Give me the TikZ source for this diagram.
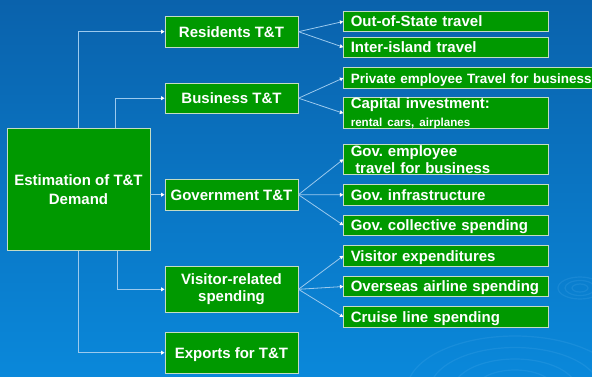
\documentclass[tikz,border=0pt]{standalone}
\usepackage{fontspec}
\setmainfont{Liberation Sans}
\usepackage[HTML]{xcolor}
\usetikzlibrary{positioning, arrows, arrows.meta}

\definecolor{boxgreen}{HTML}{009900}
\definecolor{bgtop}{HTML}{0A62AC}
\definecolor{bgbot}{HTML}{0A88DA}
\definecolor{linkblue}{HTML}{9CCAEE}
\definecolor{edgegrey}{HTML}{C4DCC4}
\definecolor{ripple}{HTML}{5AB4F0}

\tikzset{
  box/.style={draw=edgegrey, line width=0.9pt, fill=boxgreen, text=white,
    font=\fontsize{15}{17}\selectfont\bfseries, inner ysep=0pt},
  mainbox/.style={box, minimum width=133pt, inner xsep=2pt, align=center},
  leafbox/.style={box, anchor=west, inner xsep=7pt, text width=190.4pt, align=left},
  single/.style={minimum height=20.4pt, text height=10.7pt, text depth=0pt},
  link/.style={draw=linkblue, line width=0.8pt, -{Triangle[length=3.4pt,width=3.8pt,color=white]}},
  wave/.style={draw=ripple, line width=1.2pt, opacity=0.18},
}

\begin{document}
\frenchspacing
\begin{tikzpicture}[x=1pt, y=-1pt]
\useasboundingbox (0,0) rectangle (592,376);
\fill[top color=bgtop, bottom color=bgbot] (0,0) rectangle (592,376);
\begin{scope}
\clip (0,0) rectangle (592,376);
\foreach \r in {8,15,22}
  \draw[wave] (580,288) ellipse [x radius=\r, y radius=\r/2];
\foreach \r in {40,62,85,108}
  \draw[wave] (515,390) ellipse [x radius=\r, y radius=\r/2];
\end{scope}

\node[box, minimum width=143pt, minimum height=122.7pt, align=center,
  font=\fontsize{15}{19}\selectfont\bfseries] (root) at (78.5,189.5) {Estimation of T\&T\\Demand};

\node[mainbox, minimum height=30.7pt, text height=10.7pt, text depth=0pt] (res) at (231.5,31.7) {Residents T\&T};
\node[mainbox, minimum height=30.3pt, text height=10.7pt, text depth=0pt] (bus) at (231.5,98.2) {Business T\&T};
\node[mainbox, minimum height=30.7pt, text height=10.7pt, text depth=0pt] (gov) at (231.5,194.7) {Government T\&T};
\node[mainbox, minimum height=45.3pt, font=\fontsize{15}{17.6}\selectfont\bfseries] (vis) at (231.5,289.3) {Visitor-related\\spending\vphantom{Vl}};
\node[mainbox, minimum height=40.5pt, text height=10.7pt, text depth=0pt] (exp) at (231.5,352.7) {Exports for T\&T};

\node[leafbox, single] (out)   at (343.3,21.5)  {Out-of-State travel};
\node[leafbox, single] (inter) at (343.3,47.2)  {Inter-island travel};
\node[leafbox, single, text width=246pt, font=\fontsize{13.5}{16}\selectfont\bfseries] (priv) at (343.3,78) {Private employee Travel for business};
\node[leafbox, minimum height=31pt] (cap) at (343.3,113.2) {Capital investment:\\[0.5pt]{\fontsize{11.6}{13}\selectfont rental cars, airplanes}};
\node[leafbox, minimum height=30.7pt, font=\fontsize{15}{16.7}\selectfont\bfseries] (gemp) at (343.3,159.3) {Gov. employee\\\hspace*{4.5pt}travel for business};
\node[leafbox, single] (infra) at (343.3,194.8) {Gov. infrastructure};
\node[leafbox, single] (coll)  at (343.3,225.2) {Gov. collective spending};
\node[leafbox, single] (vexp)  at (343.3,255.8) {Visitor expenditures};
\node[leafbox, single] (air)   at (343.3,286.5) {Overseas airline spending};
\node[leafbox, single] (ship)  at (343.3,317)   {Cruise line spending};

\draw[link] (root.north) |- (res.west);
\draw[link] ([xshift=36.8pt]root.north) |- (bus.west);
\draw[link] (root.east |- gov.west) -- (gov.west);
\draw[link] ([xshift=38.8pt]root.south) |- (vis.west);
\draw[link] (root.south) |- (exp.west);

\draw[link] (res.east) -- (out.west);
\draw[link] (res.east) -- (inter.west);
\draw[link] (bus.east) -- (priv.west);
\draw[link] (bus.east) -- (cap.west);
\draw[link] (gov.east) -- (gemp.west);
\draw[link] (gov.east) -- (infra.west);
\draw[link] (gov.east) -- (coll.west);
\draw[link] (vis.east) -- (vexp.west);
\draw[link] (vis.east) -- (air.west);
\draw[link] (vis.east) -- (ship.west);
\end{tikzpicture}
\end{document}
